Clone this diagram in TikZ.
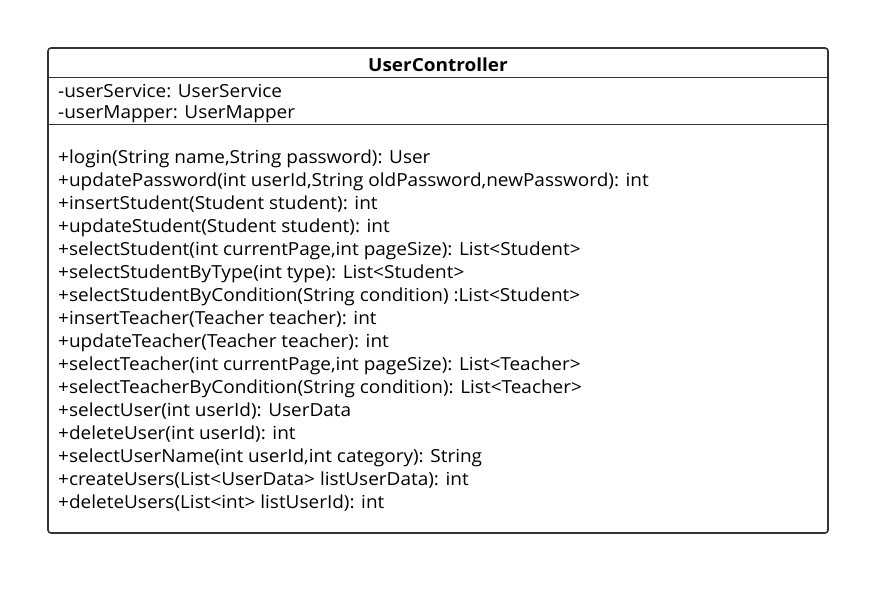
\documentclass[tikz,border=0pt]{standalone}
\usepackage{fontspec}
\setmainfont{Open Sans}[FakeStretch=1.055]
\begin{document}
\begin{tikzpicture}[x=1pt,y=-1pt,
  member/.style={anchor=west,inner sep=0pt,font=\fontsize{18}{21}\selectfont},
  classbox/.style={draw=black!80,line width=1.6pt,rounded corners=3pt},
  divider/.style={draw=black!80,line width=1.6pt}]
\useasboundingbox (0,0) rectangle (890,596);
\draw[classbox] (48,48) rectangle (828,533);
\coordinate (d1l) at (48,77.5); \coordinate (d1r) at (828,77.5);
\coordinate (d2l) at (48,124.5); \coordinate (d2r) at (828,124.5);
\draw[divider] (d1l) -- (d1r);
\draw[divider] (d2l) -- (d2r);
\node[inner sep=0pt,font=\fontsize{18}{21}\selectfont\bfseries] (title) at (438,65) {UserController};
\node[member] (a1) at (58,91.5) {-userService: UserService};
\node[member] (a2) at (58,114.5) {-userMapper: UserMapper};
\foreach \t [count=\i] in {
 {+login(String name,String password): User},
 {+updatePassword(int userId,String oldPassword,newPassword): int},
 {+insertStudent(Student student): int},
 {+updateStudent(Student student): int},
 {+selectStudent(int currentPage,int pageSize): List<Student>},
 {+selectStudentByType(int type): List<Student>},
 {+selectStudentByCondition(String condition) :List<Student>},
 {+insertTeacher(Teacher teacher): int},
 {+updateTeacher(Teacher teacher): int},
 {+selectTeacher(int currentPage,int pageSize): List<Teacher>},
 {+selectTeacherByCondition(String condition): List<Teacher>},
 {+selectUser(int userId): UserData},
 {+deleteUser(int userId): int},
 {+selectUserName(int userId,int category): String},
 {+createUsers(List<UserData> listUserData): int},
 {+deleteUsers(List<int> listUserId): int}}
 \node[member] (m\i) at (58,{158.5+23*(\i-1)}) {\t};
\end{tikzpicture}
\end{document}
